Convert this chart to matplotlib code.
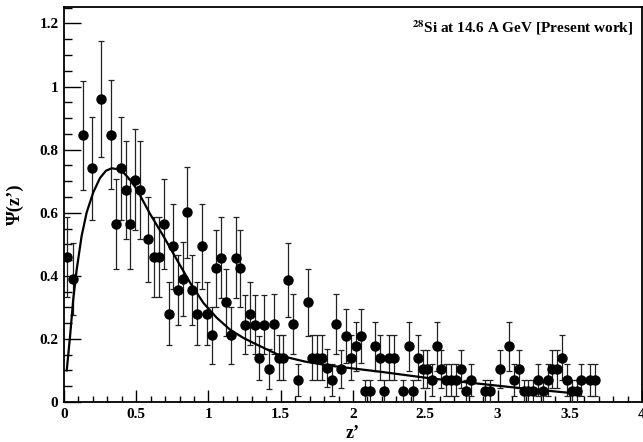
import numpy as np
import matplotlib
matplotlib.use("Agg")
import matplotlib.pyplot as plt
from matplotlib.ticker import MultipleLocator

# ----------------------------------------
# Data
# ----------------------------------------

# measured points: z' position, Psi(z') value, statistical error
z_vals = [0.023, 0.060, 0.129, 0.192, 0.256, 0.325, 0.358, 0.393, 0.427, 0.459,
          0.494, 0.524, 0.580, 0.625, 0.658, 0.690, 0.725, 0.757, 0.792, 0.824,
          0.854, 0.888, 0.923, 0.954, 0.988, 1.023, 1.055, 1.089, 1.122, 1.154,
          1.189, 1.221, 1.255, 1.288, 1.320, 1.352, 1.387, 1.422, 1.452, 1.487,
          1.519, 1.553, 1.586, 1.620, 1.688, 1.717, 1.750, 1.785, 1.819, 1.854,
          1.884, 1.918, 1.953, 1.988, 2.020, 2.055, 2.080, 2.119, 2.149, 2.184,
          2.216, 2.251, 2.285, 2.348, 2.384, 2.415, 2.449, 2.481, 2.512, 2.546,
          2.581, 2.611, 2.645, 2.680, 2.713, 2.749, 2.782, 2.816, 2.911, 2.945,
          3.019, 3.080, 3.116, 3.149, 3.181, 3.213, 3.246, 3.278, 3.312, 3.347,
          3.380, 3.414, 3.447, 3.481, 3.516, 3.548, 3.578, 3.643, 3.677]
psi_vals = [0.460, 0.391, 0.845, 0.741, 0.960, 0.847, 0.564, 0.741, 0.672, 0.564,
            0.705, 0.672, 0.516, 0.460, 0.460, 0.564, 0.280, 0.493, 0.354, 0.389,
            0.601, 0.354, 0.280, 0.493, 0.280, 0.211, 0.424, 0.458, 0.316, 0.211,
            0.458, 0.424, 0.245, 0.280, 0.245, 0.139, 0.245, 0.105, 0.247, 0.141,
            0.141, 0.386, 0.247, 0.070, 0.316, 0.141, 0.141, 0.141, 0.107, 0.070,
            0.247, 0.105, 0.210, 0.141, 0.176, 0.210, 0.035, 0.035, 0.176, 0.141,
            0.035, 0.141, 0.141, 0.035, 0.176, 0.035, 0.141, 0.105, 0.105, 0.070,
            0.176, 0.105, 0.070, 0.070, 0.070, 0.105, 0.035, 0.070, 0.035, 0.035,
            0.105, 0.176, 0.070, 0.105, 0.035, 0.035, 0.035, 0.070, 0.035, 0.070,
            0.105, 0.105, 0.141, 0.070, 0.035, 0.035, 0.070, 0.070, 0.070]
psi_errs = [0.127, 0.114, 0.172, 0.163, 0.184, 0.173, 0.143, 0.163, 0.154, 0.143,
            0.159, 0.154, 0.135, 0.127, 0.127, 0.143, 0.100, 0.134, 0.111, 0.117,
            0.145, 0.111, 0.100, 0.134, 0.100, 0.090, 0.122, 0.127, 0.106, 0.090,
            0.127, 0.122, 0.094, 0.100, 0.094, 0.070, 0.094, 0.063, 0.094, 0.070,
            0.070, 0.117, 0.094, 0.050, 0.106, 0.070, 0.070, 0.070, 0.061, 0.050,
            0.094, 0.061, 0.086, 0.070, 0.079, 0.086, 0.035, 0.035, 0.079, 0.070,
            0.035, 0.070, 0.070, 0.035, 0.079, 0.035, 0.070, 0.061, 0.061, 0.050,
            0.079, 0.061, 0.050, 0.050, 0.050, 0.061, 0.035, 0.050, 0.035, 0.035,
            0.061, 0.079, 0.050, 0.061, 0.035, 0.035, 0.035, 0.050, 0.035, 0.050,
            0.061, 0.061, 0.070, 0.050, 0.035, 0.035, 0.050, 0.050, 0.050]

# fitted curve, traced point by point
fit_z = [0.019, 0.042, 0.064, 0.088, 0.122, 0.157, 0.203, 0.249, 0.290, 0.330,
         0.370, 0.410, 0.455, 0.503, 0.596, 0.688, 0.780, 0.873, 0.965, 1.057,
         1.150, 1.242, 1.334, 1.422, 1.496, 1.669, 1.842, 2.188, 2.535, 2.812,
         3.158, 3.500]
fit_psi = [0.100, 0.208, 0.325, 0.420, 0.526, 0.601, 0.665, 0.710, 0.733, 0.741,
           0.738, 0.728, 0.706, 0.675, 0.596, 0.526, 0.452, 0.378, 0.314, 0.267,
           0.229, 0.203, 0.182, 0.163, 0.147, 0.128, 0.115, 0.096, 0.075, 0.061,
           0.044, 0.029]

x_ticks = [0, 0.5, 1, 1.5, 2, 2.5, 3, 3.5, 4]
x_ticklabels = ['0', '0.5', '1', '1.5', '2', '2.5', '3', '3.5', '4']
y_ticks = [0, 0.2, 0.4, 0.6, 0.8, 1.0, 1.2]
y_ticklabels = ['0', '0.2', '0.4', '0.6', '0.8', '1', '1.2']

# ----------------------------------------
# Plot
# ----------------------------------------

plt.rcParams['font.family'] = ['Liberation Serif', 'DejaVu Serif']
plt.rcParams['font.weight'] = 'bold'
plt.rcParams['mathtext.fontset'] = 'stix'

fig = plt.figure(figsize=(6.43, 4.42), dpi=100)
ax = fig.add_axes([0.0995, 0.0905, 0.899, 0.8935])

ax.errorbar(z_vals, psi_vals, yerr=psi_errs, fmt='o', color='black',
            ecolor='#222222', elinewidth=0.9, capsize=2.2, capthick=0.9,
            markersize=6.5, zorder=3)
ax.plot(fit_z, fit_psi, color='black', linewidth=1.6, zorder=4)

ax.set_xlim(0, 4)
ax.set_ylim(0, 1.252)

ax.set_xticks(x_ticks)
ax.set_xticklabels(x_ticklabels)
ax.set_yticks(y_ticks)
ax.set_yticklabels(y_ticklabels)
ax.xaxis.set_minor_locator(MultipleLocator(0.1))
ax.yaxis.set_minor_locator(MultipleLocator(0.05))

ax.tick_params(axis='both', which='both', direction='in', top=False, right=False,
               labelsize=11, width=1.0, pad=4)
ax.tick_params(axis='x', which='major', length=8.5)
ax.tick_params(axis='x', which='minor', length=4.3)
ax.tick_params(axis='y', which='major', length=12)
ax.tick_params(axis='y', which='minor', length=6)
for lab in ax.get_xticklabels() + ax.get_yticklabels():
    lab.set_fontweight('bold')

for sp in ax.spines.values():
    sp.set_linewidth(1.3)

ax.set_xlabel('z\u2019', fontsize=13, fontweight='bold')
ax.xaxis.set_label_coords(0.5, -0.058)
ax.set_ylabel('\u03a8(z\u2019)', fontsize=13.5, fontweight='bold')
ax.yaxis.set_label_coords(-0.07, 0.5)

ax.text(0.985, 0.947, r'$^{\mathbf{28}}$Si at 14.6 A GeV [Present work]',
        transform=ax.transAxes, ha='right', va='center', fontsize=11,
        fontweight='bold')

fig.savefig('out.png', dpi=100)
